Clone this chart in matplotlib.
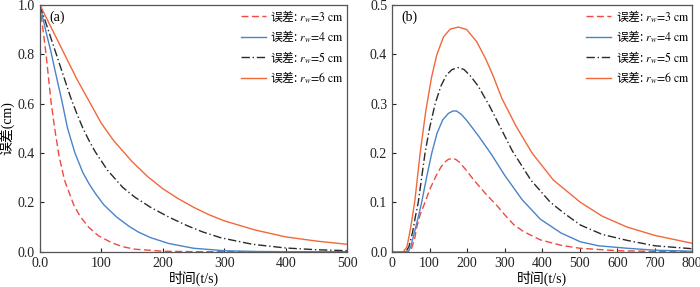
import numpy as np
import matplotlib
matplotlib.use('Agg')
import matplotlib.pyplot as plt

plt.rcParams['font.family'] = ['Liberation Serif', 'Noto Sans CJK SC']
plt.rcParams['mathtext.fontset'] = 'stix'
plt.rcParams['font.size'] = 10

# (a) error decay vs time
t_a_r3 = [0, 5, 10, 18, 24, 31, 40, 55, 65, 79, 95, 117, 135, 155, 200, 250, 500]
e_a_r3 = [1.0, 0.9, 0.8, 0.61, 0.5, 0.39, 0.29, 0.19, 0.145, 0.1, 0.065, 0.036, 0.02, 0.01, 0.002, 0.0, 0.0]
t_a_r4 = [0, 10, 18, 25, 35, 45, 57, 70, 80, 90, 104, 125, 145, 160, 180, 210, 250, 300, 350, 400, 500]
e_a_r4 = [1.0, 0.89, 0.81, 0.73, 0.62, 0.5, 0.4, 0.32, 0.275, 0.237, 0.19, 0.14, 0.103, 0.08, 0.057, 0.033, 0.014, 0.004, 0.001, 0.0, 0.0]
t_a_r5 = [0, 10, 20, 30, 40, 50, 60, 70, 80, 90, 110, 135, 155, 180, 210, 240, 265, 295, 346, 400, 450, 500]
e_a_r5 = [1.0, 0.925, 0.85, 0.775, 0.7, 0.625, 0.56, 0.5, 0.45, 0.405, 0.33, 0.26, 0.22, 0.18, 0.14, 0.105, 0.08, 0.056, 0.03, 0.015, 0.008, 0.004]
t_a_r6 = [0, 20, 40, 60, 80, 100, 120, 150, 175, 200, 225, 250, 275, 300, 350, 400, 450, 500]
e_a_r6 = [1.0, 0.9, 0.8, 0.7, 0.61, 0.52, 0.45, 0.365, 0.305, 0.255, 0.215, 0.18, 0.15, 0.125, 0.088, 0.06, 0.043, 0.03]

# (b)
t_b_r3 = [0, 40, 50, 60, 66, 75, 88, 100, 115, 130, 140, 150, 160, 170, 180, 200, 217, 250, 280, 300, 324, 350, 395, 450, 500, 600, 700, 800]
e_b_r3 = [0, 0, 0.002, 0.025, 0.05, 0.075, 0.1, 0.125, 0.15, 0.171, 0.181, 0.187, 0.189, 0.187, 0.181, 0.163, 0.146, 0.117, 0.093, 0.075, 0.055, 0.041, 0.024, 0.013, 0.007, 0.002, 0.0005, 0]
t_b_r4 = [0, 43, 50, 60, 70, 79, 92, 106, 120, 135, 150, 162, 172, 185, 200, 230, 265, 300, 346, 395, 450, 502, 550, 626, 700, 800]
e_b_r4 = [0, 0, 0.01, 0.04, 0.07, 0.1, 0.15, 0.2, 0.24, 0.267, 0.28, 0.285, 0.285, 0.278, 0.265, 0.235, 0.197, 0.155, 0.106, 0.066, 0.038, 0.02, 0.012, 0.007, 0.003, 0.001]
t_b_r5 = [0, 37, 45, 55, 62, 70, 88, 100, 115, 130, 145, 160, 177, 192, 210, 230, 260, 290, 320, 370, 422, 460, 502, 560, 626, 700, 800]
e_b_r5 = [0, 0, 0.01, 0.04, 0.07, 0.1, 0.2, 0.25, 0.3, 0.335, 0.358, 0.369, 0.373, 0.369, 0.355, 0.335, 0.295, 0.25, 0.205, 0.145, 0.1, 0.077, 0.054, 0.035, 0.023, 0.012, 0.006]
t_b_r6 = [0, 30, 40, 50, 61, 75, 90, 105, 119, 137, 155, 177, 199, 226, 250, 270, 293, 330, 373, 430, 502, 560, 626, 700, 800]
e_b_r6 = [0, 0, 0.01, 0.05, 0.104, 0.2, 0.285, 0.352, 0.398, 0.435, 0.451, 0.455, 0.45, 0.425, 0.39, 0.355, 0.31, 0.255, 0.2, 0.145, 0.1, 0.072, 0.05, 0.033, 0.017]

radii = ['3', '4', '5', '6']
labels = ['误差: $r_w\\!=\\!\\mathrm{%s\\ cm}$' % r for r in radii]
colors = ['#ee4a42', '#4a84c6', '#2a2a2a', '#f2683a']
styles = [(0, (5, 2.5)), '-', (0, (6, 2, 1, 2)), '-']

fig = plt.figure(figsize=(7, 2.87), dpi=100)
ax1 = fig.add_axes([0.057, 0.123, 0.439, 0.86])
ax2 = fig.add_axes([0.56, 0.123, 0.429, 0.86])

data_a = [(t_a_r3, e_a_r3), (t_a_r4, e_a_r4), (t_a_r5, e_a_r5), (t_a_r6, e_a_r6)]
data_b = [(t_b_r3, e_b_r3), (t_b_r4, e_b_r4), (t_b_r5, e_b_r5), (t_b_r6, e_b_r6)]

for ax, data in [(ax1, data_a), (ax2, data_b)]:
    for (t, e), c, ls, lab in zip(data, colors, styles, labels):
        ax.plot(t, e, color=c, linestyle=ls, linewidth=1.0, label=lab)
    ax.legend(loc='upper right', frameon=False, handlelength=2.1,
              handletextpad=0.4, labelspacing=0.38, borderaxespad=0.1, borderpad=0.15,
              prop={'family': 'Noto Sans CJK SC', 'size': 8.5})
    ax.tick_params(direction='in', length=3, width=0.8, colors='#222222', labelsize=10)
    for s in ax.spines.values():
        s.set_color('#555555')
        s.set_linewidth(0.9)
    ax.set_xlabel('时间(t/s)', labelpad=1)

ax1.set_xlim(0, 500)
ax1.set_ylim(0, 1.0)
ax1.set_xticks([0, 100, 200, 300, 400, 500])
ax1.set_xticklabels(['0.0', '100', '200', '300', '400', '500'])
ax1.set_yticks([0, 0.2, 0.4, 0.6, 0.8, 1.0])
ax1.set_yticklabels(['0.0', '0.2', '0.4', '0.6', '0.8', '1.0'])
ax1.set_ylabel('误差(cm)', labelpad=2)
ax1.text(0.03, 0.95, '(a)', transform=ax1.transAxes, fontsize=10, va='center')

ax2.set_xlim(0, 800)
ax2.set_ylim(0, 0.5)
ax2.set_xticks(range(0, 801, 100))
ax2.set_yticks([0, 0.1, 0.2, 0.3, 0.4, 0.5])
ax2.set_yticklabels(['0.0', '0.1', '0.2', '0.3', '0.4', '0.5'])
ax2.text(0.03, 0.95, '(b)', transform=ax2.transAxes, fontsize=10, va='center')

fig.savefig('out.png', dpi=100)
